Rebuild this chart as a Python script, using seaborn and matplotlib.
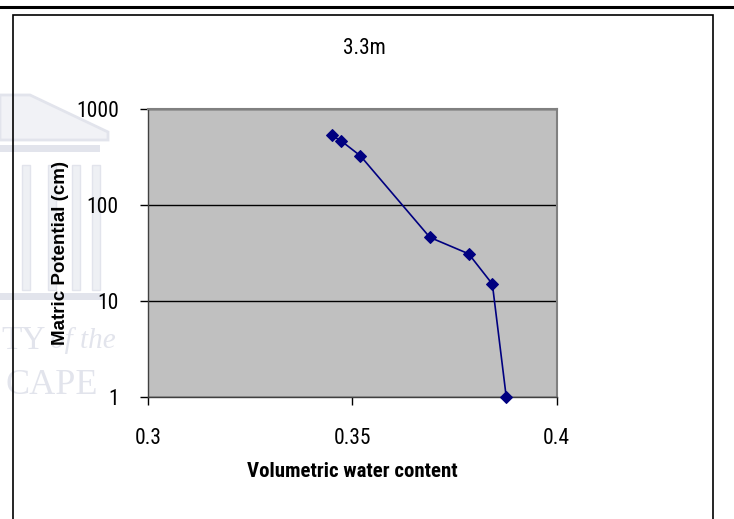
"Courbe de rétention - 3.3m"

import seaborn as sns
import matplotlib.pyplot as plt
from matplotlib import font_manager
from matplotlib.lines import Line2D
from matplotlib.patches import Rectangle, Polygon
from matplotlib.ticker import FixedLocator, FixedFormatter, NullLocator

# valeurs
water_content = [0.345, 0.3473, 0.352, 0.369, 0.3785, 0.3843, 0.3877]
matric_potential = [530, 465, 325, 46, 31, 15, 1]
x_ticks = [0.3, 0.35, 0.4]
x_labels = ["0.3", "0.35", "0.4"]
y_ticks = [1, 10, 100, 1000]
y_labels = ["1", "10", "100", "1000"]

# police étroite si disponible
installed = {f.name for f in font_manager.fontManager.ttflist}
narrow = [n for n in ['Liberation Sans Narrow', 'Roboto Condensed', 'Open Sans Condensed']
          if n in installed]
narrow = narrow + ['Liberation Sans', 'DejaVu Sans']
fs_tick = 15.5
serif = ['Liberation Serif', 'DejaVu Serif']
wm = '#e2e4ec'

W, H = 734, 519
fig = plt.figure(figsize=(W / 100, H / 100), dpi=100)


def px(x, y):
    return (x / W, 1 - y / H)


# filigrane (logo de l'université), derrière tout le reste
tf = fig.transFigure
fig.add_artist(Polygon([px(0, 95), px(30, 95), px(108, 132), px(108, 140), px(0, 140)],
                       closed=True, transform=tf, facecolor='#f1f2f6',
                       edgecolor=wm, linewidth=2, zorder=-10))
fig.add_artist(Rectangle(px(0, 152), 100 / W, 7 / H, transform=tf,
                         facecolor=wm, edgecolor='none', zorder=-10))
for cx in [22, 48, 72, 92]:
    fig.add_artist(Rectangle(px(cx, 290), 8 / W, 125 / H, transform=tf,
                             facecolor='#eef0f4', edgecolor=wm, linewidth=1, zorder=-10))
fig.add_artist(Rectangle(px(0, 300), 105 / W, 7 / H, transform=tf,
                         facecolor=wm, edgecolor='none', zorder=-10))
fig.text(*px(1, 341), "TY", family=serif, fontsize=24, color=wm, va='center', ha='left',
         zorder=-10)
fig.text(*px(50, 341), "of the", family=serif, fontsize=21, style='italic', color=wm,
         va='center', ha='left', zorder=-10)
fig.text(*px(6, 386), "CAPE", family=serif, fontsize=26, color=wm, va='center', ha='left',
         zorder=-10)

# cadres de la page
fig.add_artist(Line2D([0, 1], [1 - 7 / H, 1 - 7 / H], transform=tf,
                      color='black', linewidth=2.2))
fig.add_artist(Rectangle((13 / W, -0.05), 700 / W, 1.05 - 15 / H, transform=tf,
                         fill=False, edgecolor='black', linewidth=1.2))

# titre centré sur la zone du graphique
fig.text(*px(364, 48), "3.3m", family=narrow, fontsize=fs_tick, ha='center', va='center')

ax = fig.add_axes([148 / W, 1 - 397 / H, 408.5 / W, 288 / H])
ax.set_facecolor('#c0c0c0')

sns.lineplot(x=water_content, y=matric_potential, sort=False, ax=ax,
             color='#000080', linewidth=1.2, marker='D', markersize=6.5,
             markeredgecolor='#000080', clip_on=False, zorder=3)

ax.set_yscale('log')
ax.set_xlim(0.3, 0.4)
ax.set_ylim(1, 1000)
ax.xaxis.set_major_locator(FixedLocator(x_ticks))
ax.xaxis.set_major_formatter(FixedFormatter(x_labels))
ax.yaxis.set_major_locator(FixedLocator(y_ticks))
ax.yaxis.set_major_formatter(FixedFormatter(y_labels))
ax.yaxis.set_minor_locator(NullLocator())
ax.grid(axis='y', color='black', linewidth=1)
ax.set_axisbelow(True)

for side in ['top', 'right']:
    ax.spines[side].set_color('#808080')
    ax.spines[side].set_linewidth(1.5)
for side in ['left', 'bottom']:
    ax.spines[side].set_color('#404040')
    ax.spines[side].set_linewidth(1)

ax.tick_params(axis='both', direction='out', length=6, width=1, color='black')
ax.tick_params(axis='x', pad=16)
ax.tick_params(axis='y', pad=15)
for lab in ax.get_xticklabels() + ax.get_yticklabels():
    lab.set_family(narrow)
    lab.set_fontsize(fs_tick)

ax.set_xlabel("Volumetric water content", family=narrow, fontsize=15,
              fontweight='bold', labelpad=10)
ax.set_ylabel("Matric Potential (cm)", family=['Liberation Sans', 'DejaVu Sans'],
              fontsize=13.5, fontweight='bold', labelpad=5)

plt.savefig("out.png", dpi=100)
